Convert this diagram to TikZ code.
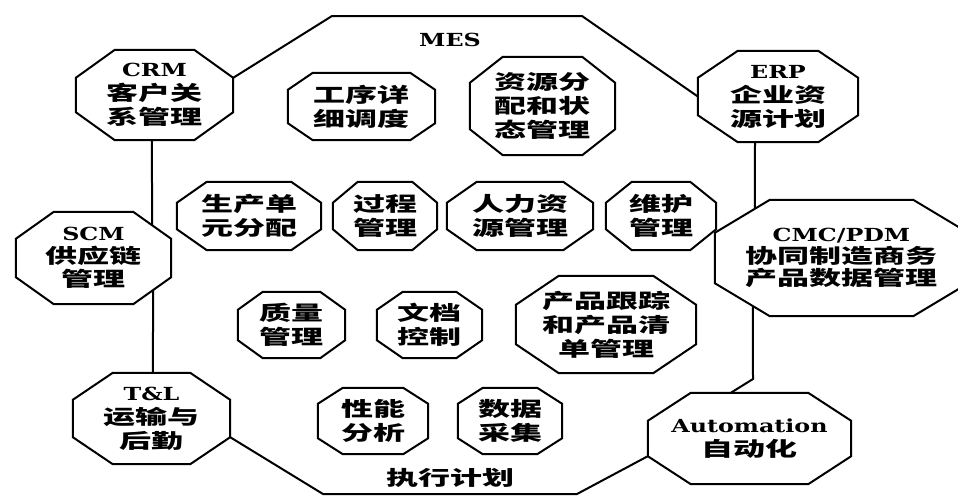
\documentclass[tikz,border=0pt]{standalone}
\usepackage{fontspec}
\usepackage{graphicx}
\usetikzlibrary{calc}
\newfontfamily\cjk{Noto Sans CJK SC}
\newfontfamily\latb{DejaVu Serif}
\newcommand\cj[1]{\scalebox{1.6}[1]{\cjk\bfseries #1}}
\newcommand\lt[1]{\scalebox{1.32}[1]{\fontsize{18}{22}\latb\bfseries #1}}
\tikzset{
  octline/.style={line width=2pt, line join=miter},
  conn/.style={line width=2pt},
  box/.style={inner sep=0pt, draw=none, align=center, font=\fontsize{20}{24}\selectfont},
  lbl/.style={inner sep=0pt, font=\fontsize{20}{24}\selectfont},
}
% #1 opts, #2 name, #3 x1, #4 y1, #5 x2, #6 y2, #7 dx, #8 dy, #9 text
\newcommand\oct[9][]{%
  \node[box,#1,minimum width={#5-#3},minimum height={#6-#4}] (#2) at ({(#3+#5)/2},{(#4+#6)/2}) {#9};
  \draw[octline] ($(#2.north west)+(#7,0)$) -- ($(#2.north east)+(-#7,0)$) -- ($(#2.north east)+(0,#8)$) -- ($(#2.south east)+(0,-#8)$) -- ($(#2.south east)+(-#7,0)$) -- ($(#2.south west)+(#7,0)$) -- ($(#2.south west)+(0,-#8)$) -- ($(#2.north west)+(0,#8)$) -- cycle;
}
\begin{document}
\begin{tikzpicture}[x=1pt,y=-1pt]
\useasboundingbox (0,0) rectangle (958,496);
\clip (0,0) rectangle (958,496);

% outer systems
\oct{crm}{76}{50}{233}{140}{39}{28}{\lt{CRM}\\\cj{客户关}\\\cj{系管理}}
\oct{erp}{698}{51}{858}{142}{40}{27}{\lt{ERP}\\\cj{企业资}\\\cj{源计划}}
\oct[font=\fontsize{20}{23}\selectfont]{scm}{16}{212}{171}{304}{38}{27}{\lt{SCM}\\\cj{供应链}\\\cj{管理}}
\oct{tl}{73}{373}{230}{464}{40}{27}{\lt{T\&L}\\\cj{运输与}\\\cj{后勤}}
\oct[font=\fontsize{20}{22}\selectfont]{cmc}{715}{200}{968}{316}{55}{33}{\lt{CMC/PDM}\\\cj{协同制造商务}\\\cj{产品数据管理}}
\oct{auto}{648}{393}{851}{484}{43}{28}{\lt{Automation}\\\cj{自动化}}

% MES functions
\oct{gx}{288}{73}{435}{140}{25}{17}{\cj{工序详}\\\cj{细调度}}
\oct{zy}{470}{57}{615}{155}{33}{26}{\cj{资源分}\\\cj{配和状}\\\cj{态管理}}
\oct{sc}{177}{182}{321}{250}{30}{21}{\cj{生产单}\\\cj{元分配}}
\oct{gc}{333}{182}{437}{250}{25}{21}{\cj{过程}\\\cj{管理}}
\oct{rl}{447}{182}{593}{250}{30}{21}{\cj{人力资}\\\cj{源管理}}
\oct{wh}{606}{182}{716}{250}{26}{21}{\cj{维护}\\\cj{管理}}
\oct{zl}{238}{292}{345}{358}{25}{18}{\cj{质量}\\\cj{管理}}
\oct{wd}{377}{292}{482}{358}{26}{18}{\cj{文档}\\\cj{控制}}
\oct{cp}{516}{276}{696}{373}{43}{29}{\cj{产品跟踪}\\\cj{和产品清}\\\cj{单管理}}
\oct{xn}{318}{388}{428}{454}{25}{16}{\cj{性能}\\\cj{分析}}
\oct{sj}{458}{388}{562}{454}{25}{16}{\cj{数据}\\\cj{采集}}

% labels
\node[lbl] (mes) at (450,40) {\lt{MES}};
\node[lbl] (zxjh) at (450,478) {\cj{执行计划}};

% MES boundary
\coordinate (mesTL) at (332,16);
\coordinate (mesTR) at (582,16);
\coordinate (mesBR) at (577,494);
\coordinate (mesBL) at (323,494);
\coordinate (autoJ) at (753,379);

\draw[conn] ($(crm.north east)+(0,28)$) -- (mesTL) -- (mesTR) -- (erp.west);
\draw[conn] ($(erp.south)+(-23,0)$) -- ($(cmc.north west)+(40,9)$);
\draw[conn] ($(cmc.south west)+(38,-10)$) -- (autoJ) -- ($(auto.north west)+(83,0)$);
\draw[conn] ($(auto.south west)+(0,-28)$) -- (mesBR) -- (mesBL) -- ($(tl.south east)+(0,-27)$);
\draw[conn] ($(tl.north west)+(80,0)$) -- ($(scm.south east)+(-18,-14)$);
\draw[conn] ($(scm.north east)+(-19,13.5)$) -- ($(crm.south west)+(76,0)$);
\end{tikzpicture}
\end{document}
